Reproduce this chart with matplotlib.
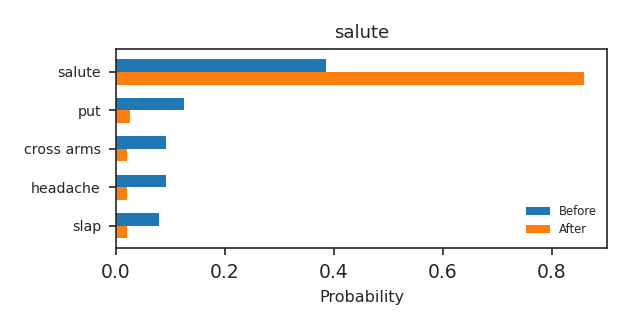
import matplotlib
matplotlib.use("Agg")
import matplotlib.pyplot as plt
import numpy as np

categories = ["salute", "put", "cross arms", "headache", "slap"]
before = [0.386, 0.124, 0.091, 0.091, 0.079]
after = [0.859, 0.025, 0.021, 0.021, 0.020]
title = "salute"

dark = "#262626"
plt.rcParams.update({
    "text.color": dark,
    "axes.edgecolor": dark,
    "axes.labelcolor": dark,
    "xtick.color": dark,
    "ytick.color": dark,
    "axes.linewidth": 1.2,
})

fig = plt.figure(figsize=(6.3, 3.3), dpi=100)
ax = fig.add_axes([0.1841, 0.2476, 0.780, 0.603])

y = np.arange(len(categories))
h = 0.33
ax.barh(y - h / 2, before, height=h, color="#1f77b4", label="Before")
ax.barh(y + h / 2, after, height=h, color="#ff7f0e", label="After")
ax.set_yticks(y)
ax.set_yticklabels(categories, fontsize=10.2)
ax.set_ylim(len(categories) - 1 + 0.59, -0.59)
ax.set_xlim(0, 0.902)
ax.tick_params(axis="both", length=5, width=1.2)
ax.tick_params(axis="x", labelsize=13.5, pad=5.5)
ax.tick_params(axis="y", pad=5.8)
ax.set_xlabel("Probability", fontsize=11.5, labelpad=6.2)
ax.set_title(title, fontsize=13, pad=8)
ax.legend(loc="lower right", frameon=False, fontsize=8.4, labelspacing=0.4,
          bbox_to_anchor=(1.0, 0.01))

fig.savefig("out.png", dpi=100)
